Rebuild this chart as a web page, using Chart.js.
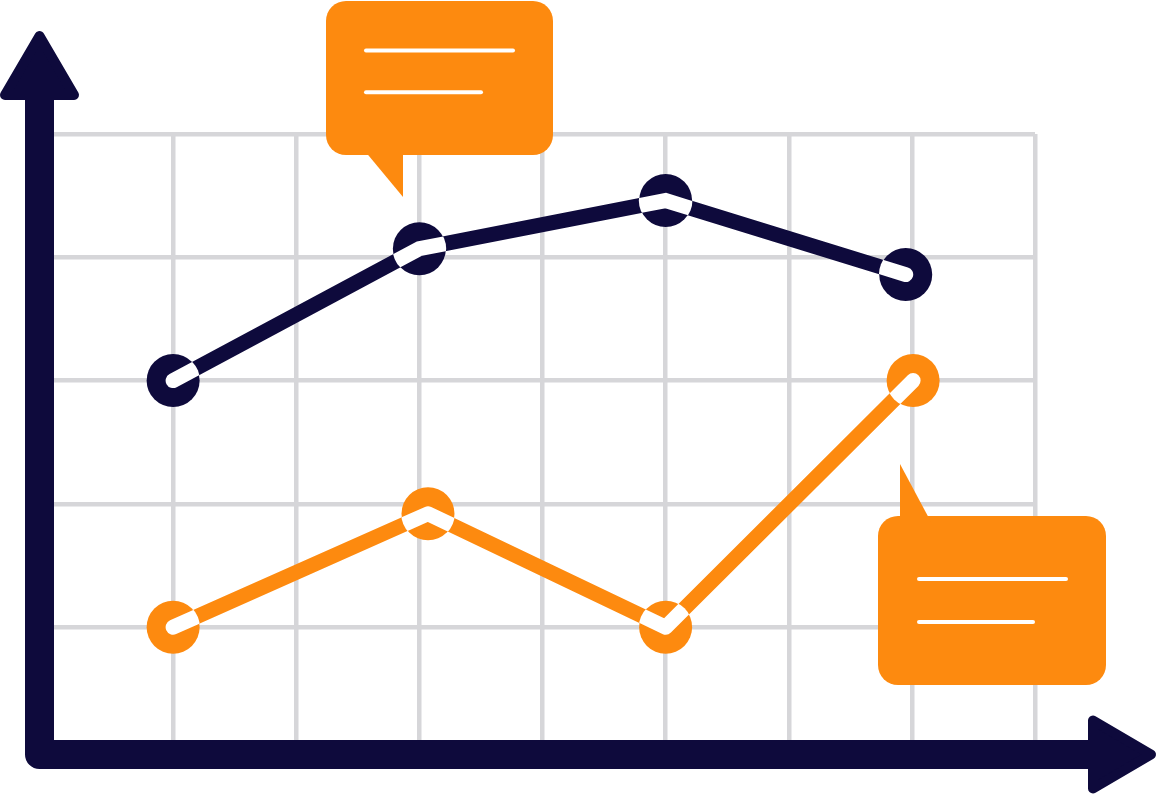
<!DOCTYPE html>
<html>
<head>
<meta charset="utf-8">
<script src="https://cdn.jsdelivr.net/npm/chart.js@4/dist/chart.umd.min.js"></script>
<style>
  html, body { margin: 0; padding: 0; background: #ffffff; }
  #wrap { position: relative; width: 1158px; height: 794px; }
</style>
</head>
<body>
<div id="wrap"><canvas id="c"></canvas></div>
<script>
// ---- data ----
const xTicks = [0, 1, 2, 3, 4, 5, 6, 7, 8];
const yTicks = [0, 1, 2, 3, 4, 5];
const darkX = [1, 3, 5, 6.95];
const darkY = [3.0, 4.07, 4.46, 3.86];
const orangeX = [1, 3.07, 5, 7.01];
const orangeY = [1.0, 1.92, 1.0, 3.0];

const NAVY = '#0E0A3C';
const ORANGE = '#FD8A0F';
const GRID = '#D6D6D9';
const POINT_R = 26.5;
const LINE_W = 15;

const toPts = (xs, ys) => xs.map((x, i) => ({ x: x, y: ys[i] }));

// Axes with arrows
const axesPlugin = {
  id: 'axes',
  beforeDatasetsDraw(chart) {
    const ctx = chart.ctx;
    const a = chart.chartArea;
    const ax = a.left - 10.5;      // vertical axis centre
    const ay = a.bottom + 4;       // horizontal axis centre
    ctx.save();
    ctx.strokeStyle = NAVY;
    ctx.fillStyle = NAVY;
    ctx.lineWidth = 29;
    ctx.lineJoin = 'round';
    ctx.lineCap = 'butt';
    ctx.beginPath();
    ctx.moveTo(ax, 95);
    ctx.lineTo(ax, ay);
    ctx.lineTo(1093, ay);
    ctx.stroke();
    // up arrow head
    ctx.lineWidth = 10;
    ctx.beginPath();
    ctx.moveTo(ax, 36);
    ctx.lineTo(ax + 34.5, 95);
    ctx.lineTo(ax - 34.5, 95);
    ctx.closePath();
    ctx.fill();
    ctx.stroke();
    // right arrow head
    ctx.beginPath();
    ctx.moveTo(1151, ay);
    ctx.lineTo(1093, ay - 34);
    ctx.lineTo(1093, ay + 34);
    ctx.closePath();
    ctx.fill();
    ctx.stroke();
    ctx.restore();
  }
};

// White line inside marker circles
const innerPlugin = {
  id: 'inner',
  afterDatasetsDraw(chart) {
    const ctx = chart.ctx;
    chart.data.datasets.forEach((ds, di) => {
      const meta = chart.getDatasetMeta(di);
      const pts = meta.data;
      pts.forEach((p) => {
        ctx.save();
        ctx.beginPath();
        ctx.arc(p.x, p.y, POINT_R + 0.3, 0, Math.PI * 2);
        ctx.clip();
        ctx.beginPath();
        pts.forEach((q, i) => { if (i === 0) ctx.moveTo(q.x, q.y); else ctx.lineTo(q.x, q.y); });
        ctx.strokeStyle = '#ffffff';
        ctx.lineWidth = LINE_W;
        ctx.lineCap = 'round';
        ctx.lineJoin = ds.borderJoinStyle;
        ctx.stroke();
        ctx.restore();
      });
    });
  }
};

// Speech-bubble callouts
function roundRect(ctx, x, y, w, h, r) {
  ctx.moveTo(x + r, y);
  ctx.lineTo(x + w - r, y);
  ctx.arcTo(x + w, y, x + w, y + r, r);
  ctx.lineTo(x + w, y + h - r);
  ctx.arcTo(x + w, y + h, x + w - r, y + h, r);
  ctx.lineTo(x + r, y + h);
  ctx.arcTo(x, y + h, x, y + h - r, r);
  ctx.lineTo(x, y + r);
  ctx.arcTo(x, y, x + r, y, r);
  ctx.closePath();
}
const callouts = [
  { x: 326, y: 1, w: 227, h: 154, tail: [[364, 150], [403, 197], [403, 150]],
    lines: [[366, 515 - 2, 50.5], [366, 483 - 2, 92.3]] },
  { x: 878, y: 516, w: 228, h: 169, tail: [[900, 522], [900, 464], [931, 522]],
    lines: [[919, 1066, 579], [919, 1033, 622]] }
];
const calloutPlugin = {
  id: 'callouts',
  afterDraw(chart) {
    const ctx = chart.ctx;
    ctx.save();
    callouts.forEach(c => {
      ctx.fillStyle = ORANGE;
      ctx.beginPath();
      roundRect(ctx, c.x, c.y, c.w, c.h, 20);
      ctx.fill();
      ctx.beginPath();
      c.tail.forEach((t, i) => i ? ctx.lineTo(t[0], t[1]) : ctx.moveTo(t[0], t[1]));
      ctx.closePath();
      ctx.fill();
      ctx.strokeStyle = '#ffffff';
      ctx.lineWidth = 4;
      ctx.lineCap = 'round';
      c.lines.forEach(l => {
        ctx.beginPath();
        ctx.moveTo(l[0], l[2]);
        ctx.lineTo(l[1], l[2]);
        ctx.stroke();
      });
    });
    ctx.restore();
  }
};

new Chart(document.getElementById('c'), {
  type: 'line',
  data: {
    datasets: [
      {
        label: 'Series A',
        data: toPts(darkX, darkY),
        borderColor: NAVY,
        backgroundColor: NAVY,
        borderWidth: LINE_W,
        borderCapStyle: 'round',
        borderJoinStyle: 'miter',
        pointRadius: POINT_R,
        pointBorderWidth: 0,
        pointBackgroundColor: NAVY,
        tension: 0,
        fill: false
      },
      {
        label: 'Series B',
        data: toPts(orangeX, orangeY),
        borderColor: ORANGE,
        backgroundColor: ORANGE,
        borderWidth: LINE_W,
        borderCapStyle: 'round',
        borderJoinStyle: 'round',
        pointRadius: POINT_R,
        pointBorderWidth: 0,
        pointBackgroundColor: ORANGE,
        tension: 0,
        fill: false
      }
    ]
  },
  options: {
    responsive: true,
    maintainAspectRatio: false,
    animation: false,
    events: [],
    layout: { autoPadding: false, padding: { left: 50, top: 134, right: 123, bottom: 43.5 } },
    plugins: { legend: { display: false }, tooltip: { enabled: false }, title: { display: false } },
    scales: {
      x: {
        type: 'linear',
        min: xTicks[0],
        max: xTicks[xTicks.length - 1],
        afterBuildTicks: (s) => { s.ticks = xTicks.map(v => ({ value: v })); },
        ticks: { display: false },
        border: { display: false },
        grid: { color: GRID, lineWidth: 4.5, drawTicks: false }
      },
      y: {
        type: 'linear',
        min: yTicks[0],
        max: yTicks[yTicks.length - 1],
        afterBuildTicks: (s) => { s.ticks = yTicks.map(v => ({ value: v })); },
        ticks: { display: false },
        border: { display: false },
        grid: { color: GRID, lineWidth: 4.5, drawTicks: false }
      }
    }
  },
  plugins: [axesPlugin, innerPlugin, calloutPlugin]
});
</script>
</body>
</html>
